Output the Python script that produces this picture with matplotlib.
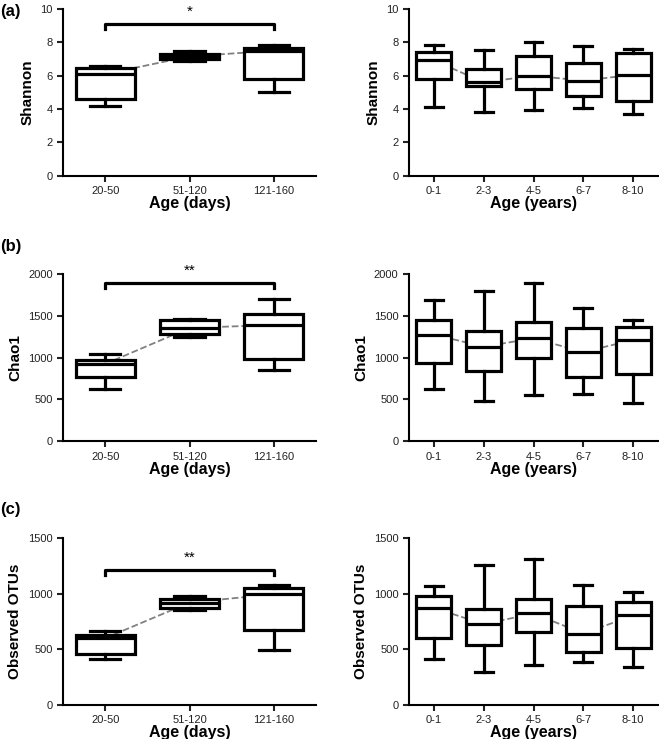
import numpy as np
import matplotlib.pyplot as plt

plt.rcParams['font.family'] = ['Liberation Sans', 'DejaVu Sans']

days = ['20-50', '51-120', '121-160']
years = ['0-1', '2-3', '4-5', '6-7', '8-10']

# whislo, q1, med, q3, whishi
shannon_days = [[4.2, 4.6, 6.1, 6.45, 6.6],
                [6.9, 7.0, 7.15, 7.3, 7.45],
                [5.0, 5.8, 7.5, 7.65, 7.85]]
shannon_years = [[4.12, 5.8, 6.92, 7.4, 7.82],
                 [3.82, 5.36, 5.6, 6.4, 7.56],
                 [3.96, 5.2, 6.0, 7.2, 8.02],
                 [4.06, 4.76, 5.7, 6.76, 7.76],
                 [3.7, 4.48, 6.06, 7.36, 7.6]]
chao_days = [[628, 767, 925, 970, 1046],
             [1245, 1284, 1356, 1451, 1463],
             [855, 986, 1392, 1523, 1702]]
chao_years = [[624, 932, 1276, 1448, 1692],
              [480, 844, 1132, 1316, 1804],
              [552, 1000, 1232, 1428, 1900],
              [564, 764, 1068, 1352, 1600],
              [452, 800, 1212, 1368, 1448]]
otu_days = [[412, 457, 600, 625, 666],
            [852, 875, 920, 953, 983],
            [493, 672, 995, 1052, 1079]]
otu_years = [[411, 603, 873, 978, 1065],
             [294, 540, 726, 861, 1254],
             [363, 657, 822, 951, 1314],
             [390, 480, 642, 891, 1074],
             [342, 510, 804, 927, 1014]]

rows = [('Shannon', shannon_days, shannon_years, 10, 2, '*', 9.1, 8.8),
        ('Chao1', chao_days, chao_years, 2000, 500, '**', 1893, 1829),
        ('Observed OTUs', otu_days, otu_years, 1500, 500, '**', 1210, 1165)]
letters = ['(a)', '(b)', '(c)']
letter_y = [0.984, 0.666, 0.310]
bottoms = [0.762, 0.403, 0.046]

fig = plt.figure(figsize=(6.59, 7.39), dpi=100)


def draw(ax, cats, vals, ymax, step, ylab, xlab):
    stats = []
    for c, v in zip(cats, vals):
        stats.append(dict(label=c, whislo=v[0], q1=v[1], med=v[2], q3=v[3], whishi=v[4], fliers=[]))
    pos = np.arange(len(cats))
    ax.plot(pos, [v[2] for v in vals], ls='--', color='#808080', lw=1.3, zorder=1)
    ax.bxp(stats, positions=pos, widths=0.7, capwidths=0.36, patch_artist=True,
           boxprops=dict(facecolor='white', edgecolor='black', lw=2.3),
           medianprops=dict(color='black', lw=2.3),
           whiskerprops=dict(color='black', lw=2.3),
           capprops=dict(color='black', lw=2.3), zorder=2)
    ax.set_xlim(-0.5, len(cats) - 0.5)
    ax.set_ylim(0, ymax)
    ax.set_yticks(np.arange(0, ymax + 1, step))
    ax.set_xticks(pos)
    ax.set_xticklabels(cats)
    for s in ['top', 'right']:
        ax.spines[s].set_visible(False)
    for s in ['left', 'bottom']:
        ax.spines[s].set_linewidth(1.5)
    ax.tick_params(width=1.5, length=4, labelsize=8, colors='#222222')
    ax.set_ylabel(ylab, fontsize=11, fontweight='bold', labelpad=4)
    ax.set_xlabel(xlab, fontsize=11.5, fontweight='bold', labelpad=0)


for i, (ylab, dv, yv, ymax, step, star, by, tip) in enumerate(rows):
    ax1 = fig.add_axes([0.0956, bottoms[i], 0.384, 0.226])
    draw(ax1, days, dv, ymax, step, ylab, 'Age (days)')
    ax1.plot([0, 0, 2, 2], [tip, by, by, tip], color='black', lw=2.3, clip_on=False)
    ax1.text(1, by + ymax * 0.03, star, ha='center', va='bottom', fontsize=11)
    ax2 = fig.add_axes([0.6206, bottoms[i], 0.378, 0.226])
    draw(ax2, years, yv, ymax, step, ylab, 'Age (years)')
    fig.text(0.0, letter_y[i], letters[i],
             fontsize=12, fontweight='bold', va='center', ha='left')

fig.savefig('out.png', dpi=100)
